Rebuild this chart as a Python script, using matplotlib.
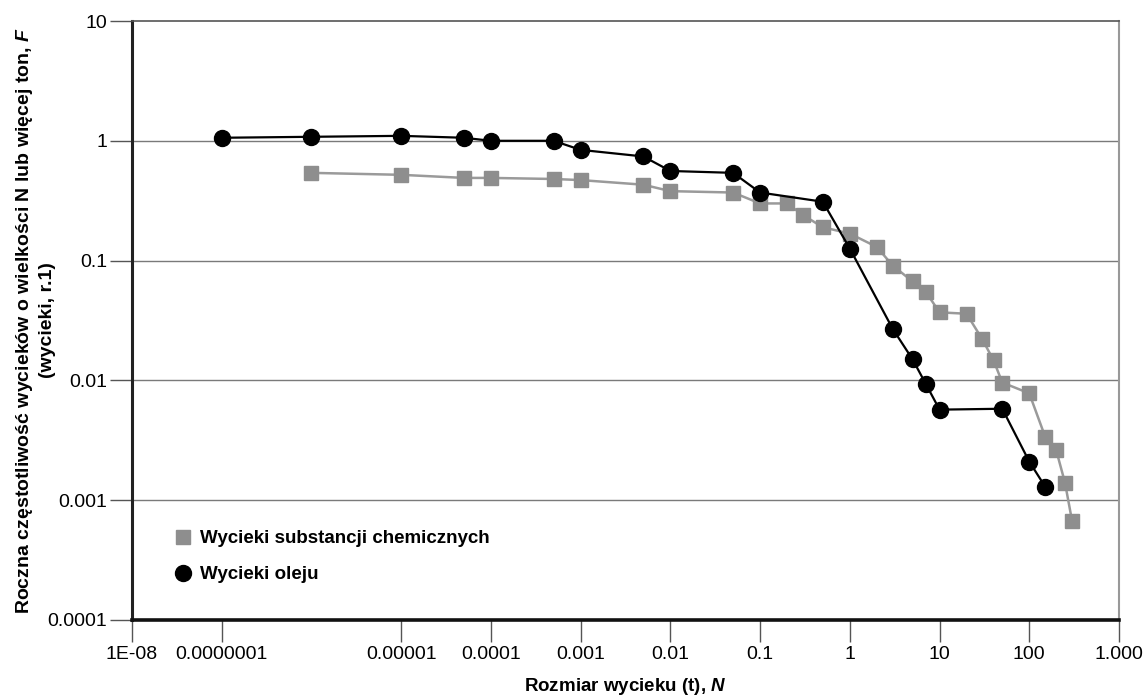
import matplotlib
matplotlib.use("Agg")
import matplotlib.pyplot as plt
from matplotlib.lines import Line2D

plt.rcParams['font.family'] = ['Liberation Sans', 'DejaVu Sans']
plt.rcParams['mathtext.fontset'] = 'custom'
plt.rcParams['mathtext.it'] = 'Liberation Sans:italic:bold'
plt.rcParams['mathtext.rm'] = 'Liberation Sans:bold'

# Data
oil_x = [1e-7, 1e-6, 1e-5, 5e-5, 1e-4, 5e-4, 1e-3, 5e-3, 1e-2, 5e-2,
         0.1, 0.5, 1, 3, 5, 7, 10, 50, 100, 150]
oil_y = [1.06, 1.08, 1.10, 1.06, 1.00, 1.00, 0.84, 0.74, 0.56, 0.54,
         0.37, 0.31, 0.126, 0.027, 0.015, 0.0094, 0.0057, 0.0058, 0.0021, 0.0013]

chem_x = [1e-6, 1e-5, 5e-5, 1e-4, 5e-4, 1e-3, 5e-3, 1e-2, 5e-2, 0.1,
          0.2, 0.3, 0.5, 1, 2, 3, 5, 7, 10, 20,
          30, 40, 50, 100, 150, 200, 250, 300]
chem_y = [0.54, 0.52, 0.49, 0.49, 0.48, 0.47, 0.43, 0.38, 0.37, 0.30,
          0.30, 0.24, 0.19, 0.168, 0.13, 0.091, 0.067, 0.055, 0.037, 0.036,
          0.022, 0.0147, 0.0096, 0.0078, 0.0034, 0.0026, 0.0014, 0.00067]

xtick_vals = [1e-8, 1e-7, 1e-5, 1e-4, 1e-3, 1e-2, 1e-1, 1, 10, 100, 1000]
xtick_labels = ['1E-08', '0.0000001', '0.00001', '0.0001', '0.001', '0.01',
                '0.1', '1', '10', '100', '1.000']
ytick_vals = [1e-4, 1e-3, 1e-2, 1e-1, 1, 10]
ytick_labels = ['0.0001', '0.001', '0.01', '0.1', '1', '10']

chem_label = 'Wycieki substancji chemicznych'
oil_label = 'Wycieki oleju'

fig = plt.figure(figsize=(11.47, 6.98), dpi=100)
ax = fig.add_axes([132/1147, 1-620/698, (1119-132)/1147, (620-21)/698])

ax.set_xscale('log')
ax.set_yscale('log')
ax.set_xlim(1e-8, 1000)
ax.set_ylim(1e-4, 10)

for v in [1e-3, 1e-2, 1e-1, 1]:
    ax.axhline(v, color='#7a7a7a', lw=1.0, zorder=1)

chem_color = '#8e8e8e'
ax.plot(chem_x, chem_y, color='#9a9a9a', lw=1.8, marker='s', ms=10,
        mfc=chem_color, mec=chem_color, zorder=3)
ax.plot(oil_x, oil_y, color='black', lw=1.6, marker='o', ms=11.5,
        mfc='black', mec='black', zorder=4)

ax.set_xticks(xtick_vals)
ax.set_xticklabels(xtick_labels)
ax.set_yticks(ytick_vals)
ax.set_yticklabels(ytick_labels)
ax.minorticks_off()
ax.tick_params(axis='both', which='major', length=16, width=1.0,
               color='#555555', labelsize=14)
ax.tick_params(axis='y', pad=2)
ax.tick_params(axis='x', pad=3)

ax.spines['left'].set_linewidth(2.2)
ax.spines['left'].set_color('#222222')
ax.spines['bottom'].set_linewidth(2.6)
ax.spines['bottom'].set_color('#111111')
ax.spines['top'].set_linewidth(1.2)
ax.spines['top'].set_color('#555555')
ax.spines['right'].set_linewidth(1.5)
ax.spines['right'].set_color('#999999')

ax.set_xlabel(r'Rozmiar wycieku (t), $\mathit{N}$', fontsize=13.5,
              fontweight='bold', labelpad=9)
ax.set_ylabel('Roczna częstotliwość wycieków o wielkości N lub więcej ton, $\\mathit{F}$\n(wycieki, r.1)',
              fontsize=14, fontweight='bold', labelpad=-6, linespacing=1.3)

handles = [Line2D([], [], ls='none', marker='s', ms=10, mfc=chem_color, mec=chem_color),
           Line2D([], [], ls='none', marker='o', ms=11.5, mfc='black', mec='black')]
ax.legend(handles, [chem_label, oil_label], loc='upper left',
          bbox_to_anchor=(0.027, 0.178), frameon=False,
          prop={'weight': 'bold', 'size': 13.5}, handlelength=0.8,
          handletextpad=0.5, labelspacing=1.0)

fig.savefig('out.png', dpi=100)
